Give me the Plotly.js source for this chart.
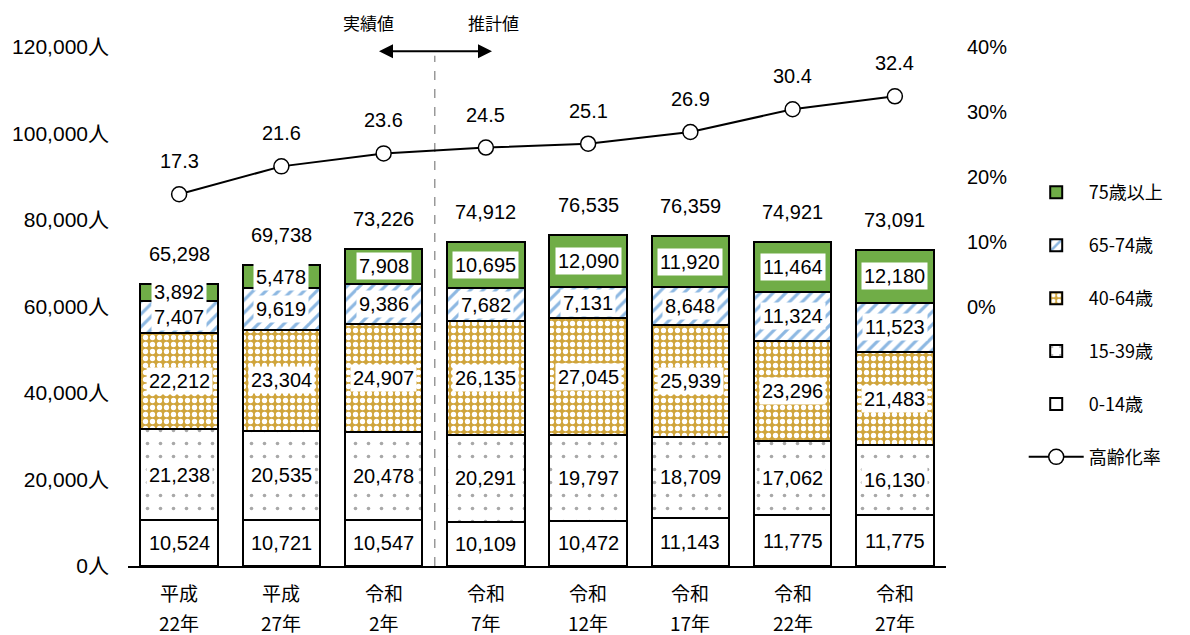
<!DOCTYPE html>
<html><head><meta charset="utf-8">
<script src="https://cdn.plot.ly/plotly-3.0.1.min.js"></script>
<style>html,body{margin:0;padding:0;background:#fff}#chart{width:1190px;height:635px}</style>
</head><body><div id="chart"></div>
<script>
const categoryEra  = ["平成","平成","令和","令和","令和","令和","令和","令和"];
const categoryYear = ["22年","27年","2年","7年","12年","17年","22年","27年"];
const age0_14  = [10524,10721,10547,10109,10472,11143,11775,11775];
const age15_39 = [21238,20535,20478,20291,19797,18709,17062,16130];
const age40_64 = [22212,23304,24907,26135,27045,25939,23296,21483];
const age65_74 = [7407,9619,9386,7682,7131,8648,11324,11523];
const age75up  = [3892,5478,7908,10695,12090,11920,11464,12180];
const totals   = [65298,69738,73226,74912,76535,76359,74921,73091];
const agingRate = [17.3,21.6,23.6,24.5,25.1,26.9,30.4,32.4];
const seriesNames = ["0-14歳","15-39歳","40-64歳","65-74歳","75歳以上"];
const yTickVals = [0,20000,40000,60000,80000,100000,120000];
const y2TickVals = [0,10,20,30,40];

const xs = categoryEra.map((c,i)=>i);
const NUM = "Liberation Sans, Noto Sans CJK JP, sans-serif";
const JP = "Noto Sans CJK JP, sans-serif";

const series = [age0_14, age15_39, age40_64, age65_74, age75up];
const patterns = [
  {shape:"", bgcolor:"#ffffff"},
  {shape:".", fgcolor:"#a8a8a8", bgcolor:"#ffffff", size:13, solidity:0.06},
  {shape:".", fgcolor:"#ffffff", bgcolor:"#D0A53C", size:7, solidity:0.45},
  {shape:"/", fgcolor:"#8DB8E2", bgcolor:"#ffffff", size:9, solidity:0.35},
  {shape:"", bgcolor:"#70AD47"}
];
const colors = ["#ffffff","#ffffff","#D0A53C","#ffffff","#70AD47"];
const ranks = [5,4,3,2,1];

const traces = series.map((vals,k)=>({
  type:"bar", x:xs, y:vals, name:seriesNames[k], width:0.76,
  marker:{color:colors[k], line:{color:"#000", width:2}, pattern:patterns[k]},
  legendrank:ranks[k], legendgroup:"g"+k, hoverinfo:"skip"
}));
traces.push({
  type:"scatter", mode:"lines+markers", x:xs, y:agingRate, yaxis:"y2", name:"高齢化率",
  line:{color:"#000", width:2},
  marker:{symbol:"circle", size:15, color:"#fff", line:{color:"#000", width:1.5}},
  legendrank:6, legendgroup:"g6", hoverinfo:"skip"
});

const annotations = [];
xs.forEach(i=>{
  let cum = 0;
  series.forEach(vals=>{
    const v = vals[i];
    annotations.push({x:i, y:cum + v/2, xref:"x", yref:"y", text:v.toLocaleString("en-US"),
      showarrow:false, bgcolor:"#fff", borderpad:2,
      font:{family:NUM, size:20, color:"#000"}});
    cum += v;
  });
  annotations.push({x:i, y:cum, xref:"x", yref:"y", text:totals[i].toLocaleString("en-US"),
    showarrow:false, yanchor:"bottom", yshift:17, font:{family:NUM, size:20, color:"#000"}});
  annotations.push({x:i, y:agingRate[i], xref:"x", yref:"y2", text:agingRate[i].toFixed(1),
    showarrow:false, yanchor:"bottom", yshift:20, font:{family:NUM, size:20, color:"#000"}});
  annotations.push({x:i, y:-0.052, xref:"x", yref:"paper", yanchor:"middle", text:categoryEra[i], showarrow:false,
    font:{family:JP, size:19, color:"#000"}});
  annotations.push({x:i, y:-0.108, xref:"x", yref:"paper", yanchor:"middle", text:categoryYear[i], showarrow:false,
    font:{family:JP, size:19, color:"#000"}});
});
annotations.push({x:3.06, y:119000, ax:1.94, ay:119000, xref:"x", yref:"y", axref:"x", ayref:"y",
  showarrow:true, arrowhead:2, startarrowhead:2, arrowside:"end+start", arrowsize:1.4, startarrowsize:1.4,
  arrowwidth:2, arrowcolor:"#000", text:""});
annotations.push({x:1.85, y:1.048, xref:"x", yref:"paper", yanchor:"middle", text:"実績値", showarrow:false,
  font:{family:JP, size:17, color:"#000"}});
annotations.push({x:3.07, y:1.048, xref:"x", yref:"paper", yanchor:"middle", text:"推計値", showarrow:false,
  font:{family:JP, size:17, color:"#000"}});

const layout = {
  width:1190, height:635,
  margin:{l:128, r:244, t:47, b:69},
  paper_bgcolor:"#fff", plot_bgcolor:"#fff",
  barmode:"stack",
  showlegend:true,
  legend:{x:1.095, y:0.755, xanchor:"left", yanchor:"top", traceorder:"grouped",
    tracegroupgap:26.5, font:{family:JP, size:18, color:"#000"}, itemwidth:55, bgcolor:"rgba(0,0,0,0)"},
  xaxis:{range:[-0.5,7.5], tickvals:xs, showticklabels:false, showgrid:false, zeroline:false,
    showline:true, linecolor:"#000", linewidth:2, ticks:"", fixedrange:true},
  yaxis:{range:[0,120000], tickvals:yTickVals, ticktext:yTickVals.map(v=>v.toLocaleString("en-US")+"人"),
    showgrid:false, zeroline:false, showline:false, ticks:"", ticklabelstandoff:18,
    tickfont:{family:NUM, size:21, color:"#000"}},
  yaxis2:{overlaying:"y", side:"right", range:[-40,40], tickvals:y2TickVals, ticktext:y2TickVals.map(v=>v+"%"),
    showgrid:false, zeroline:false, showline:false, ticks:"", ticklabelstandoff:20,
    tickfont:{family:NUM, size:20, color:"#000"}},
  shapes:[{type:"line", xref:"x", yref:"y", x0:2.5, x1:2.5, y0:0, y1:118000,
    line:{color:"#999", width:1.5, dash:"dash"}, layer:"below"}],
  annotations:annotations
};
Plotly.newPlot("chart", traces, layout, {displayModeBar:false, staticPlot:true});
</script></body></html>
